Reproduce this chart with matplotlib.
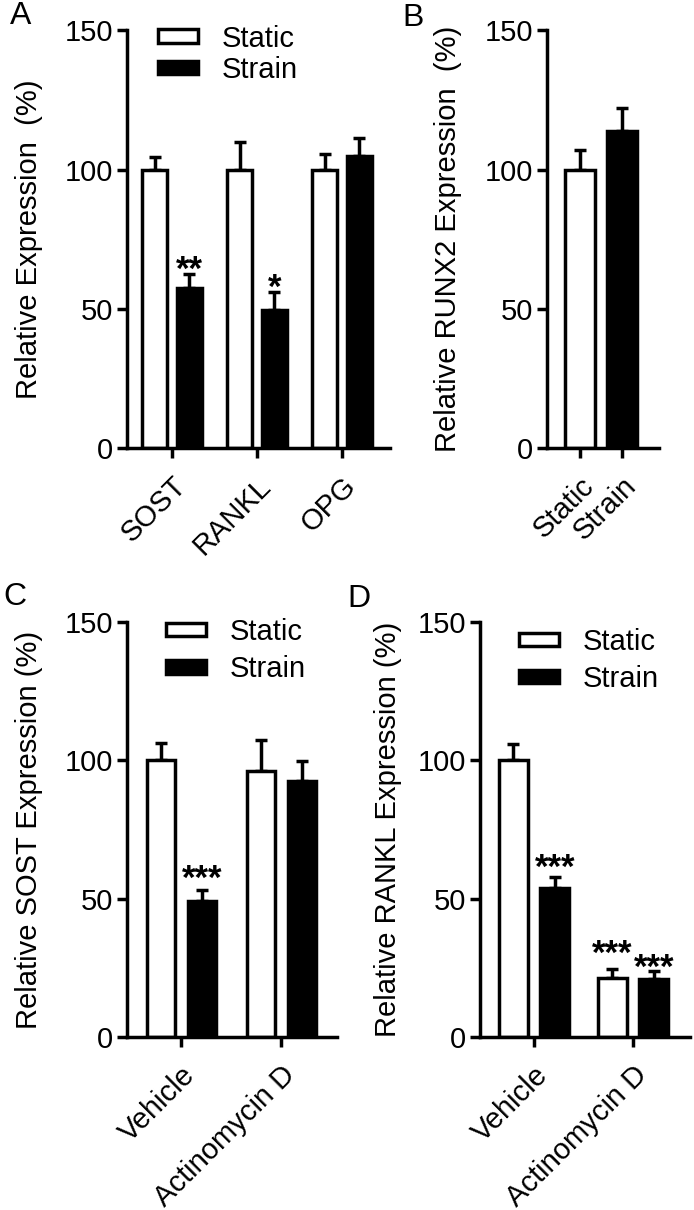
import matplotlib
matplotlib.use("Agg")
import matplotlib.pyplot as plt
from matplotlib.patches import Patch
import numpy as np

plt.rcParams['font.family'] = ['Liberation Sans', 'DejaVu Sans']

# ---------------- data ----------------
genes_A = ["SOST", "RANKL", "OPG"]
static_A = [100, 100, 100]
static_A_err = [4.7, 10.0, 5.8]
strain_A = [57.5, 49.7, 105.0]
strain_A_err = [5.1, 6.4, 6.5]
sig_A_strain = ["**", "*", ""]

groups_B = ["Static", "Strain"]
runx2_B = [100, 114]
runx2_B_err = [7.2, 8.3]

treat_CD = ["Vehicle", "Actinomycin D"]
sost_static_C = [100, 96]
sost_static_C_err = [6.3, 11.2]
sost_strain_C = [49.3, 92.5]
sost_strain_C_err = [4.0, 7.2]
sig_C_strain = ["***", ""]

rankl_static_D = [100, 21.5]
rankl_static_D_err = [5.9, 3.0]
rankl_strain_D = [54.0, 20.8]
rankl_strain_D_err = [4.0, 3.2]
sig_D_static = ["", "***"]
sig_D_strain = ["***", "***"]

yticks = [0, 50, 100, 150]

# ---------------- style ----------------
W, H = 694, 1210
fig = plt.figure(figsize=(W / 100, H / 100), dpi=100)
LW = 2.5
FS = 21
STAR_FS = 25


def add_ax(l, r, top, bottom):
    return fig.add_axes([l / W, 1 - bottom / H, (r - l) / W, (bottom - top) / H])


def style(ax, xlim, labels):
    ax.set_ylim(0, 150)
    ax.set_xlim(*xlim)
    ax.set_yticks(yticks)
    for s in ["top", "right"]:
        ax.spines[s].set_visible(False)
    for s in ["left", "bottom"]:
        ax.spines[s].set_linewidth(LW)
    ax.tick_params(axis="both", width=LW, length=7.2, labelsize=FS, direction="out")
    ax.tick_params(axis="y", pad=3.0)
    ax.tick_params(axis="x", pad=10)
    ax.set_xticks(np.arange(len(labels)))
    ax.set_xticklabels(labels, rotation=45, ha="right", va="top", rotation_mode="anchor")


def bars(ax, x, vals, errs, color, width):
    ax.bar(x, vals, width=width, color=color, edgecolor="black", linewidth=LW, zorder=2)
    ax.errorbar(x, vals, yerr=[np.zeros(len(errs)), errs], fmt="none", ecolor="black",
                elinewidth=LW, capsize=4.3, capthick=LW, zorder=1)


def stars(ax, x, vals, errs, sigs, offs):
    for xi, v, e, s, o in zip(x, vals, errs, sigs, offs):
        if s:
            ax.annotate(s, xy=(xi, v + e), xytext=(0, o), textcoords="offset points",
                        ha="center", va="baseline", fontsize=STAR_FS, fontweight="bold")


def legend(ax, anchor, spacing):
    handles = [Patch(facecolor="white", edgecolor="black", linewidth=LW, label="Static"),
               Patch(facecolor="black", edgecolor="black", linewidth=LW, label="Strain")]
    ax.legend(handles=handles, loc="upper left", bbox_to_anchor=anchor, frameon=False,
              fontsize=FS, handlelength=1.37, handleheight=0.34, handletextpad=0.8,
              labelspacing=spacing, borderpad=0, borderaxespad=0)


# ---------------- panel A ----------------
axA = add_ax(127, 390, 30.5, 448)
xA = np.arange(len(genes_A))
bars(axA, xA - 0.205, static_A, static_A_err, "white", 0.29)
bars(axA, xA + 0.205, strain_A, strain_A_err, "black", 0.29)
stars(axA, xA + 0.205, strain_A, strain_A_err, sig_A_strain, [-4.5, -4.5, -4.5])
style(axA, (-0.53, 2.565), genes_A)
axA.set_ylabel("Relative Expression  (%)", fontsize=FS)
axA.yaxis.set_label_coords(-0.319, 0.5)
legend(axA, (0.118, 1.014), 0.12)

# ---------------- panel B ----------------
axB = add_ax(547, 659, 30.5, 448)
xB = np.arange(len(groups_B))
axB.bar(xB[:1], runx2_B[:1], width=0.71, color="white", edgecolor="black", linewidth=LW, zorder=2)
axB.bar(xB[1:], runx2_B[1:], width=0.71, color="black", edgecolor="black", linewidth=LW, zorder=2)
axB.errorbar(xB, runx2_B, yerr=[np.zeros(2), runx2_B_err], fmt="none", ecolor="black",
             elinewidth=LW, capsize=4.3, capthick=LW, zorder=1)
style(axB, (-0.79, 1.88), groups_B)
axB.set_ylabel("Relative RUNX2 Expression  (%)", fontsize=FS)
axB.yaxis.set_label_coords(-0.76, 0.5)

# ---------------- panel C ----------------
axC = add_ax(127, 337, 622, 1037)
xC = np.arange(len(treat_CD))
bars(axC, xC - 0.2, sost_static_C, sost_static_C_err, "white", 0.28)
bars(axC, xC + 0.21, sost_strain_C, sost_strain_C_err, "black", 0.28)
stars(axC, xC + 0.21, sost_strain_C, sost_strain_C_err, sig_C_strain, [0.5, 0])
style(axC, (-0.54, 1.56), treat_CD)
axC.set_ylabel("Relative SOST Expression (%)", fontsize=FS)
axC.yaxis.set_label_coords(-0.40, 0.5)
legend(axC, (0.186, 1.010), 0.32)

# ---------------- panel D ----------------
axD = add_ax(480, 690, 622, 1037)
xD = np.arange(len(treat_CD))
bars(axD, xD - 0.207, rankl_static_D, rankl_static_D_err, "white", 0.29)
bars(axD, xD + 0.21, rankl_strain_D, rankl_strain_D_err, "black", 0.29)
stars(axD, xD - 0.207, rankl_static_D, rankl_static_D_err, sig_D_static, [0, 3.6])
stars(axD, xD + 0.21, rankl_strain_D, rankl_strain_D_err, sig_D_strain, [-0.7, -5])
style(axD, (-0.545, 1.576), treat_CD)
axD.set_ylabel("Relative RANKL Expression (%)", fontsize=FS)
axD.yaxis.set_label_coords(-0.371, 0.5)
legend(axD, (0.186, 0.986), 0.32)

# ---------------- panel letters ----------------
for letter, (x, y) in zip("ABCD", [(10, 1), (402, 3), (3, 582), (347, 584)]):
    fig.text(x / W, 1 - y / H, letter, fontsize=23, ha="left", va="top")

fig.savefig("out.png", dpi=100)
